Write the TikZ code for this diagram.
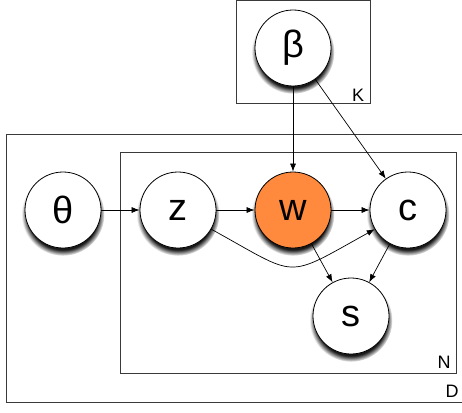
\documentclass[tikz,border=0pt]{standalone}
\usepackage{fontspec}
\setmainfont{Liberation Sans}
\usetikzlibrary{shadows,arrows.meta}
\definecolor{wfill}{HTML}{FF8A3D}
\definecolor{boxline}{HTML}{3A3A3A}
\tikzset{
  var/.style={circle, draw=black, line width=0.8pt, fill=white, minimum size=76pt, inner sep=0pt,
    font=\fontsize{38}{38}\selectfont,
    circular drop shadow={shadow xshift=0pt, shadow yshift=-4pt, shadow scale=1.09, fill=black, opacity=0.9}},
  obs/.style={var, fill=wfill},
  plate/.style={draw=boxline, line width=1pt},
  platelabel/.style={font=\fontsize{18}{18}\selectfont, inner sep=0pt},
  edge/.style={line width=0.7pt, -{Latex[length=8pt,width=6pt]}}
}
\begin{document}
\begin{tikzpicture}[x=1pt,y=-1pt]
\useasboundingbox (0,0) rectangle (462,412);
% plates
\draw[plate] (236,1) rectangle (370,103);
\draw[plate] (6,134) rectangle (475,402);
\draw[plate, fill=white] (120,152) rectangle (456,373);
\node[platelabel] (lk) at (358,95) {K};
\node[platelabel] (ln) at (444,362) {N};
\node[platelabel] (ld) at (452,391) {D};
% nodes
\node[var] (beta) at (293,48) {β};
\node[var] (theta) at (63,210) {θ};
\node[var] (z) at (178,210) {z};
\node[obs] (w) at (293,210) {w};
\node[var] (c) at (408,210) {c};
\node[var] (s) at (351,316) {s};
% edges
\draw[edge] (beta) -- (w);
\draw[edge] (beta) -- (c);
\draw[edge] (theta) -- (z);
\draw[edge] (z) -- (w);
\draw[edge] (w) -- (c);
\draw[edge] (w) -- (s);
\draw[edge] (c) -- (s);
\draw[edge] (z.-30) .. controls (300,278) and (283,280) .. (c.210);
\end{tikzpicture}
\end{document}
